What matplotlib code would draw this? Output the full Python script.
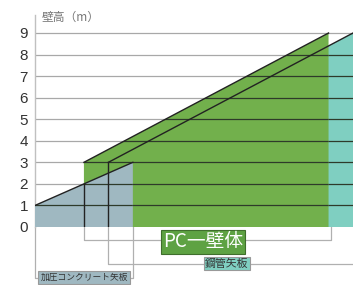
import numpy as np
import matplotlib.pyplot as plt
from matplotlib.patches import Polygon

plt.rcParams['font.family'] = ['Noto Sans CJK JP', 'DejaVu Sans']

# wall types: start/end position along the x axis, wall height (m) at each end
conc_x = [0, 4]
conc_h = [1, 3]
pc_x = [2, 12]
pc_h = [3, 9]
steel_x = [3, 13]
steel_h = [3, 9]

yticks = list(range(10))
ylabel = '壁高（m）'
labels = ['加圧コンクリート矢板', 'PC一壁体', '鋼管矢板']

c_conc = '#9fb8c1'
c_pc = '#72b04c'
c_steel = '#7fcfc1'

fig = plt.figure(figsize=(3.53, 2.85), dpi=100)
ax = fig.add_axes([35 / 353, 58 / 285, 318 / 353, 212 / 285])
ax.set_xlim(0, 13)
ax.set_ylim(0, 212 / (194 / 9))

# light grid in the white area
for y in yticks[1:]:
    ax.axhline(y, color='#a8a8a8', lw=0.9, zorder=1)


def wall(xs, hs, color, z):
    pts = [(xs[0], 0), (xs[0], hs[0]), (xs[1], hs[1]), (xs[1], 0)]
    poly = Polygon(pts, closed=True, facecolor=color, edgecolor='none', zorder=z)
    ax.add_patch(poly)
    # darker grid lines over the filled area
    for y in yticks[1:]:
        ln, = ax.plot([0, 13], [y, y], color='#2e3a2a', lw=0.9, zorder=z + 0.1)
        ln.set_clip_path(poly)
    return poly


wall(steel_x, steel_h, c_steel, 2)
wall(pc_x, pc_h, c_pc, 3)
wall(conc_x, conc_h, c_conc, 4)

# top edges
ax.plot(steel_x, steel_h, color='#222222', lw=1.0, zorder=6)
ax.plot(pc_x, pc_h, color='#222222', lw=1.0, zorder=6)
ax.plot(conc_x, conc_h, color='#222222', lw=1.0, zorder=6)

# dark verticals where walls start
h2 = np.interp(pc_x[0], conc_x, conc_h)
ax.plot([pc_x[0], pc_x[0]], [0, h2], color='#222222', lw=1.0, zorder=6)
ax.plot([steel_x[0], steel_x[0]], [0, steel_h[0]], color='#222222', lw=1.0, zorder=6)

# label connectors below the axis
gc = '#b0b0b0'
y_pc, y_st, y_cc = -0.6, -1.7, -2.35
ax.plot([pc_x[0], pc_x[0], pc_x[1] + 0.1, pc_x[1] + 0.1], [0, y_pc, y_pc, 0],
        color=gc, lw=0.9, clip_on=False, zorder=1)
ax.plot([steel_x[0], steel_x[0], steel_x[1]], [0, y_st, y_st],
        color=gc, lw=0.9, clip_on=False, zorder=1)
ax.plot([conc_x[0], conc_x[0], conc_x[1], conc_x[1]], [0, y_cc, y_cc, 0],
        color=gc, lw=0.9, clip_on=False, zorder=1)

ax.text(6.87, y_pc - 0.08, labels[1], color='white', fontsize=13.5, ha='center', va='center',
        clip_on=False, zorder=8,
        bbox=dict(boxstyle='square,pad=0.08', facecolor='#5ea243', edgecolor='#3f6e2c', lw=0.8))
ax.text(7.85, y_st, labels[2], color='#333333', fontsize=7.8, ha='center', va='center',
        clip_on=False, zorder=8,
        bbox=dict(boxstyle='square,pad=0.12', facecolor=c_steel, edgecolor='#999999', lw=0.8))
ax.text(2.02, y_cc, labels[0], color='#333333', fontsize=6.3, ha='center', va='center',
        clip_on=False, zorder=8,
        bbox=dict(boxstyle='square,pad=0.25', facecolor=c_conc, edgecolor='#999999', lw=0.8))

ax.set_yticks(yticks)
ax.set_yticklabels([str(t) for t in yticks], fontsize=11, color='#333333',
                   family=['Liberation Sans'])
ax.tick_params(axis='y', length=0, pad=5)
ax.set_xticks([])
for s in ['top', 'right', 'bottom']:
    ax.spines[s].set_visible(False)
ax.spines['left'].set_color('#c0c0c0')
ax.spines['left'].set_linewidth(1.0)
ax.patch.set_visible(False)

fig.text(42 / 353, 1 - 17 / 285, ylabel, fontsize=8.5, color='#777777', ha='left', va='center')

fig.savefig('out.png', dpi=100, facecolor='white')
